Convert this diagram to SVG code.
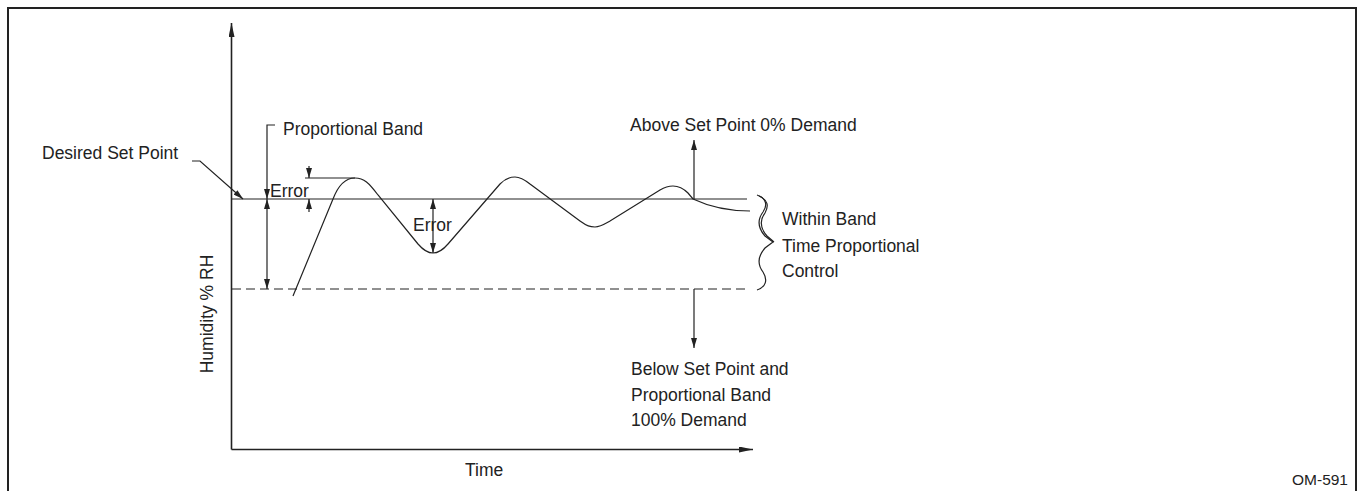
<svg xmlns="http://www.w3.org/2000/svg" width="1358" height="491" viewBox="0 0 1358 491">
<style>
text{font-family:"Liberation Sans",Arial,sans-serif;font-size:17.5px;fill:#222}
.ln{stroke:#222;stroke-width:1.2;fill:none}
.ax{stroke:#222;stroke-width:1.6;fill:none}
.dash{stroke:#222;stroke-width:1.2;fill:none;stroke-dasharray:9 5}
</style>
<defs>
<marker id="ah" markerUnits="userSpaceOnUse" markerWidth="10" markerHeight="6" refX="10" refY="3" orient="auto"><path d="M0,0 L10,3 L0,6 Z" fill="#222"/></marker>
<marker id="ahs" markerUnits="userSpaceOnUse" markerWidth="10" markerHeight="6" refX="0" refY="3" orient="auto"><path d="M10,0 L0,3 L10,6 Z" fill="#222"/></marker>
<marker id="axh" markerUnits="userSpaceOnUse" markerWidth="14" markerHeight="6" refX="14" refY="3" orient="auto"><path d="M0,0 L14,3 L0,6 Z" fill="#222"/></marker>
</defs>
<rect x="8" y="8" width="1348" height="520" fill="none" stroke="#222" stroke-width="2"/>
<g id="axes">
<path class="ax" d="M231.5,449.5 V23" marker-end="url(#axh)"/>
<path class="ax" d="M231.5,449.5 H753" marker-end="url(#axh)"/>
</g>
<g id="lines">
<path class="ln" d="M231.5,199 H747"/>
<path class="dash" d="M232,289 H747"/>
<path class="ln" d="M293,296 L333,199 C338,186 345,178 355,178 C364,178 369,183 378,195 L418,244 C424,251 428,253 433,253 C438,253 442,251 448,244 L500,184 C505,179 509,177 515,177 C521,177 525,180 530,184 L580,221 C587,226 590,227 595,227 C600,227 603,225 610,221 L660,190 C665,187 668,186 673,186 C679,186 684,189 688,193 L693,199 C710,207 730,211 750,211"/>
<path class="ln" d="M757,195 C766,198 768,205 763,212 C757,220 758,228 765,236 L773,242 L765,248 C758,256 757,264 763,272 C768,280 766,287 757,290"/>
<path class="ln" d="M759,196 C768,200 769,206 765,213 C759,221 760,228 767,236 L774,242" stroke-width="0.6"/>
</g>
<g id="connectors">
<path class="ln" d="M192,161 H200 L243,199" marker-end="url(#ah)"/>
<path class="ln" d="M275,125 H267 V199" marker-end="url(#ah)"/>
<path class="ln" d="M267,199 V289" marker-start="url(#ahs)" marker-end="url(#ah)"/>
<path class="ln" d="M305,178 H355"/>
<path class="ln" d="M309,166 V178" marker-end="url(#ah)"/>
<path class="ln" d="M309,212 V199" marker-end="url(#ah)"/>
<path class="ln" d="M433,199 V253" marker-start="url(#ahs)" marker-end="url(#ah)"/>
<path class="ln" d="M694,199 V140" marker-end="url(#ah)"/>
<path class="ln" d="M694,289 V348" marker-end="url(#ah)"/>
</g>
<g id="labels">
<text x="42" y="159">Desired Set Point</text>
<text x="283" y="135">Proportional Band</text>
<text x="270" y="197">Error</text>
<text x="413" y="231">Error</text>
<text x="630" y="131">Above Set Point 0% Demand</text>
<text x="782" y="225">Within Band</text>
<text x="782" y="252">Time Proportional</text>
<text x="782" y="277">Control</text>
<text x="631" y="375">Below Set Point and</text>
<text x="631" y="401">Proportional Band</text>
<text x="631" y="426">100% Demand</text>
<text transform="translate(213,314) rotate(-90)" text-anchor="middle">Humidity % RH</text>
<text x="465" y="476">Time</text>
<text x="1348" y="485" text-anchor="end" style="font-size:15.5px">OM-591</text>
</g>
</svg>
